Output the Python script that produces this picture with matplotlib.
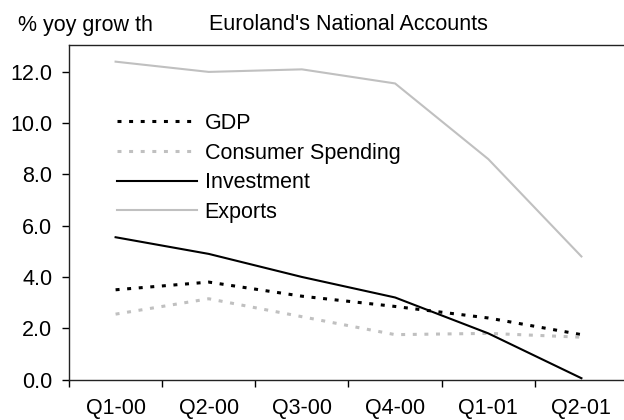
import numpy as np
from matplotlib import pyplot as plt

plt.rcParams['font.family'] = ['Liberation Sans', 'DejaVu Sans']

quarters = ['Q1-00', 'Q2-00', 'Q3-00', 'Q4-00', 'Q1-01', 'Q2-01']
gdp = [3.5, 3.8, 3.25, 2.85, 2.4, 1.75]
consumer = [2.55, 3.15, 2.45, 1.75, 1.8, 1.65]
investment = [5.55, 4.9, 4.0, 3.2, 1.8, 0.05]
exports = [12.4, 12.0, 12.1, 11.55, 8.6, 4.8]

fs = 15.5
fig = plt.figure(figsize=(6.24, 4.2), dpi=100)
# plot area runs slightly past the right edge, like the original
ax = fig.add_axes([69/624, 40.5/420, 559/624, 334.5/420])

x = np.arange(len(quarters))
grey = '#c0c0c0'
ax.plot(x, gdp, color='black', lw=2.2, ls=(0, (1.3, 2.5)), label='GDP')
ax.plot(x, consumer, color=grey, lw=2.2, ls=(0, (1.3, 2.5)), label='Consumer Spending')
ax.plot(x, investment, color='black', lw=1.5, label='Investment')
ax.plot(x, exports, color=grey, lw=1.5, label='Exports')

ax.set_xlim(-0.5, 5.5)
ax.set_ylim(0, 13.05)
ax.set_yticks(np.arange(0, 13, 2))
ax.set_yticklabels(['%.1f' % v for v in np.arange(0, 13, 2)])
ax.set_xticks(np.arange(-0.5, 5, 1))
ax.set_xticklabels([])
ax.set_xticks(x, minor=True)
ax.set_xticklabels(quarters, minor=True)
ax.tick_params(axis='x', which='major', direction='out', length=5, width=1)
ax.tick_params(axis='x', which='minor', length=0, pad=13, labelsize=fs)
ax.tick_params(axis='y', direction='out', length=5, width=1, pad=7, labelsize=fs)

for s in ['left', 'bottom', 'top']:
    ax.spines[s].set_linewidth(1)
    ax.spines[s].set_color('#222222')
ax.spines['right'].set_visible(False)

ax.legend(loc='upper left', bbox_to_anchor=(0.086, 0.797), frameon=False,
          fontsize=fs, handlelength=3.72, handletextpad=0.35,
          labelspacing=0.4, borderpad=0, borderaxespad=0)

fig.text(18/624, 1 - 25/420, '% yoy grow th', fontsize=fs, va='center', ha='left')
fig.text(209/624, 1 - 25/420, "Euroland's National Accounts", fontsize=fs,
         va='center', ha='left')

fig.savefig('out.png', dpi=100)
